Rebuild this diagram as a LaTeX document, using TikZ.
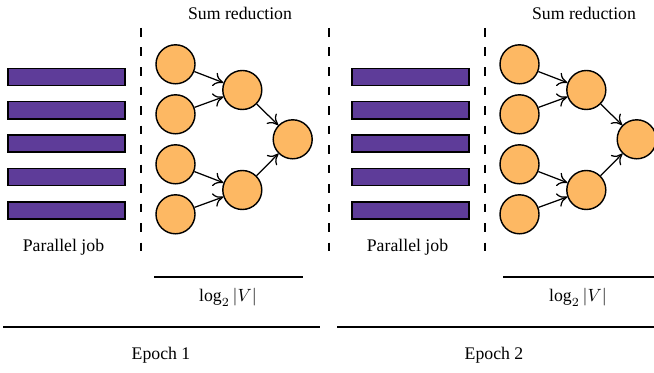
\documentclass[tikz,border=0pt]{standalone}
\usepackage{fontspec}
\setmainfont{Liberation Serif}
\usetikzlibrary{arrows.meta}
\definecolor{jobpurple}{RGB}{94,60,153}
\definecolor{sumorange}{RGB}{253,184,99}

\begin{document}
\begin{tikzpicture}[x=0.564pt,y=-0.564pt,
  job/.style={draw=black,fill=jobpurple,line width=0.8pt,minimum width=66pt,minimum height=9.6pt,inner sep=0pt},
  sumnode/.style={circle,draw=black,fill=sumorange,line width=0.8pt,minimum size=22pt,inner sep=0pt},
  red/.style={line width=0.7pt,-{To[length=5.5pt,width=8pt]}},
  sep/.style={line width=0.7pt,dash pattern=on 5pt off 6pt},
  rule/.style={line width=0.7pt}]
  \useasboundingbox (0,0) rectangle (654,373);
  % one epoch = parallel jobs + sum reduction
  \foreach \e/\o in {1/0,2/344}{
    \foreach \i in {1,...,5}
      \node[job] (job\e\i) at (66.5+\o,43.5+33.4*\i) {};
    \node (par\e) at (63.5+\o,247) {Parallel job};
    \node (title\e) at (240+\o,13) {Sum reduction};
    \coordinate (top\e) at (141+\o,28);
    \coordinate (bot\e) at (141+\o,257);
    \draw[sep] (top\e) -- (bot\e);
    \node[sumnode] (a\e1) at (175.5+\o,64.3) {};
    \node[sumnode] (a\e2) at (175.5+\o,114.3) {};
    \node[sumnode] (a\e3) at (175.5+\o,164.3) {};
    \node[sumnode] (a\e4) at (175.5+\o,214.3) {};
    \node[sumnode] (b\e1) at (242.3+\o,90) {};
    \node[sumnode] (b\e2) at (242.3+\o,190) {};
    \node[sumnode] (c\e) at (292.7+\o,139.3) {};
    \draw[red] (a\e1) -- (b\e1);
    \draw[red] (a\e2) -- (b\e1);
    \draw[red] (a\e3) -- (b\e2);
    \draw[red] (a\e4) -- (b\e2);
    \draw[red] (b\e1) -- (c\e);
    \draw[red] (b\e2) -- (c\e);
  }
  % dashed line between the epochs
  \coordinate (mtop) at (329,28);
  \coordinate (mbot) at (329,257);
  \draw[sep] (mtop) -- (mbot);
  % depth of the reduction
  \coordinate (l1a) at (154,277);
  \coordinate (l1b) at (303,277);
  \coordinate (l2a) at (503,277);
  \coordinate (l2b) at (660,277);
  \draw[rule] (l1a) -- (l1b);
  \draw[rule] (l2a) -- (l2b);
  \node (log1) at (228,297) {$\log_2|V|$};
  \node (log2) at (578,297) {$\log_2|V|$};
  % epochs
  \coordinate (e1a) at (3,327);
  \coordinate (e1b) at (320,327);
  \coordinate (e2a) at (337,327);
  \coordinate (e2b) at (660,327);
  \draw[rule] (e1a) -- (e1b);
  \draw[rule] (e2a) -- (e2b);
  \node (ep1) at (161,355) {Epoch 1};
  \node (ep2) at (494,355) {Epoch 2};
\end{tikzpicture}
\end{document}
